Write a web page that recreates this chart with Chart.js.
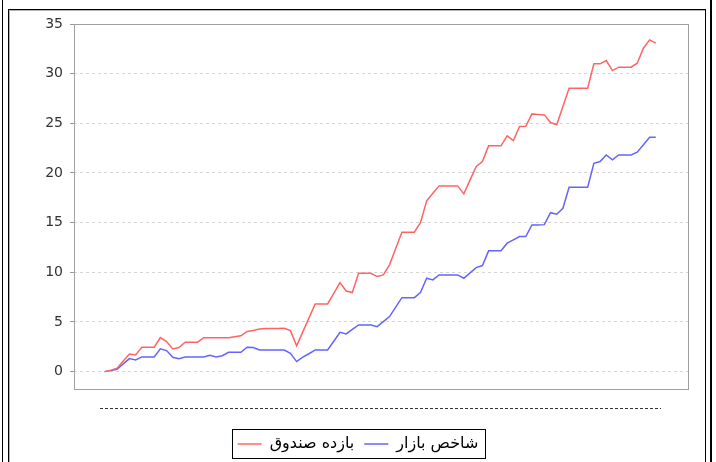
<!DOCTYPE html>
<html><head><meta charset="utf-8">
<script src="https://cdn.jsdelivr.net/npm/chart.js@4.4.0/dist/chart.umd.min.js"></script>
<style>
html,body{margin:0;padding:0;background:#fff;}
body{width:716px;height:462px;position:relative;overflow:hidden;}
#outer{position:absolute;left:2px;top:-20px;width:710px;height:520px;border-left:1px solid #000;border-right:2px solid #000;box-sizing:border-box;}
#inner{position:absolute;left:8px;top:9px;width:698px;height:480px;border:1px solid #000;box-shadow:inset 1px 1px 0 #b4b4b4;box-sizing:border-box;}
#wrap{position:absolute;left:0;top:0;width:716px;height:462px;}
</style></head><body>
<div id="outer"></div><div id="inner"></div>
<div id="wrap"><canvas id="c" width="716" height="462"></canvas></div>
<script>
const seriesNames = ['بازده صندوق', 'شاخص بازار'];
const fundReturn = [0, 0.15, 0.34, 1.06, 1.78, 1.68, 2.46, 2.46, 2.46, 3.42,
 3.02, 2.29, 2.42, 2.96, 2.96, 2.96, 3.42, 3.42, 3.42, 3.42,
 3.42, 3.51, 3.6, 4.05, 4.15, 4.3, 4.33, 4.34, 4.35, 4.36,
 4.13, 2.59, 4.0, 5.41, 6.82, 6.82, 6.82, 7.89, 8.96, 8.12,
 7.96, 9.9, 9.9, 9.9, 9.57, 9.74, 10.75, 12.4, 14.04, 14.04,
 14.04, 15.0, 17.19, 17.95, 18.7, 18.7, 18.7, 18.7, 17.9, 19.28,
 20.65, 21.15, 22.73, 22.73, 22.73, 23.74, 23.27, 24.68, 24.7, 25.95,
 25.9, 25.85, 25.08, 24.85, 26.7, 28.54, 28.54, 28.54, 28.54, 30.99,
 30.99, 31.32, 30.31, 30.65, 30.65, 30.65, 31.05, 32.56, 33.4, 33.07];
const marketIndex = [0, 0.1, 0.24, 0.78, 1.31, 1.18, 1.48, 1.48, 1.48, 2.29,
 2.12, 1.45, 1.31, 1.48, 1.48, 1.48, 1.48, 1.65, 1.48, 1.6,
 1.95, 1.95, 1.95, 2.46, 2.42, 2.18, 2.18, 2.18, 2.18, 2.18,
 1.85, 1.01, 1.45, 1.8, 2.18, 2.18, 2.18, 3.06, 3.95, 3.79,
 4.25, 4.7, 4.7, 4.7, 4.53, 5.04, 5.54, 6.5, 7.45, 7.45,
 7.45, 7.96, 9.4, 9.23, 9.74, 9.74, 9.74, 9.74, 9.4, 9.94,
 10.47, 10.68, 12.16, 12.16, 12.16, 12.93, 13.26, 13.6, 13.6, 14.77,
 14.77, 14.8, 16.0, 15.85, 16.45, 18.57, 18.57, 18.57, 18.57, 20.98,
 21.15, 21.82, 21.32, 21.82, 21.82, 21.82, 22.09, 22.85, 23.6, 23.6];
const days = fundReturn.map((_, i) => i);
const yTickValues = [0, 5, 10, 15, 20, 25, 30, 35];

const framePlugin = {
  id: 'frame',
  beforeDatasetsDraw(chart) {
    const {ctx, chartArea: a} = chart;
    ctx.save();
    ctx.strokeStyle = '#a0a0a0';
    ctx.lineWidth = 1;
    ctx.strokeRect(Math.round(a.left) + 0.5, Math.round(a.top) + 0.5, Math.round(a.width), Math.round(a.height));
    ctx.restore();
  },
  afterDraw(chart) {
    const {ctx, chartArea: a} = chart;
    ctx.save();
    ctx.strokeStyle = '#333';
    ctx.lineWidth = 1;
    ctx.setLineDash([3, 2]);
    const yy = Math.round(a.bottom + 19) + 0.5;
    ctx.beginPath();
    ctx.moveTo(a.left + 26, yy);
    ctx.lineTo(a.right - 27, yy);
    ctx.stroke();
    ctx.setLineDash([]);
    const hb = chart.legend.legendHitBoxes;
    if (hb && hb.length) {
      const l = Math.min(...hb.map(h => h.left));
      const r = Math.max(...hb.map(h => h.left + h.width));
      const t = Math.min(...hb.map(h => h.top));
      const b = Math.max(...hb.map(h => h.top + h.height));
      ctx.strokeStyle = '#000';
      ctx.strokeRect(Math.round(l - 6) + 0.5, Math.round(t - 7) + 0.5, Math.round(r - l + 12), Math.round(b - t + 13));
    }
    ctx.restore();
  }
};

new Chart(document.getElementById('c'), {
  type: 'line',
  data: {
    datasets: [
      {label: seriesNames[0], data: days.map((d, i) => ({x: d, y: fundReturn[i]})),
       borderColor: '#ff6464', backgroundColor: '#ff6464', borderWidth: 1.5, pointRadius: 0, tension: 0, fill: false},
      {label: seriesNames[1], data: days.map((d, i) => ({x: d, y: marketIndex[i]})),
       borderColor: '#6464ff', backgroundColor: '#6464ff', borderWidth: 1.5, pointRadius: 0, tension: 0, fill: false}
    ]
  },
  options: {
    responsive: false,
    animation: false,
    devicePixelRatio: 1,
    layout: {padding: {top: 24, right: 0, left: 0, bottom: 0}},
    plugins: {
      tooltip: {enabled: false},
      legend: {
        position: 'bottom',
        labels: {
          usePointStyle: true, pointStyle: 'line', pointStyleWidth: 24,
          font: {family: 'DejaVu Sans', size: 16}, color: '#000', padding: 10
        }
      }
    },
    scales: {
      x: {
        type: 'linear', min: -4.95, max: 94.2,
        ticks: {display: false},
        grid: {display: false, drawTicks: false},
        border: {display: false},
        afterFit: s => { s.height = 37; }
      },
      y: {
        min: -1.75, max: 35,
        afterBuildTicks: s => { s.ticks = yTickValues.map(v => ({value: v})); },
        afterFit: s => { s.width = 74; },
        ticks: {padding: 7, color: '#333', font: {family: 'DejaVu Sans', size: 14}},
        grid: {color: '#d4d4d4', tickLength: 4, tickColor: '#999', tickBorderDash: [], drawTicks: true},
        border: {display: false, dash: [3, 3]}
      },
      yr: {
        position: 'right', min: 0, max: 1,
        ticks: {display: false},
        grid: {display: false, drawTicks: false},
        border: {display: false},
        afterFit: s => { s.width = 28; }
      }
    }
  },
  plugins: [framePlugin]
});
</script>
</body></html>
